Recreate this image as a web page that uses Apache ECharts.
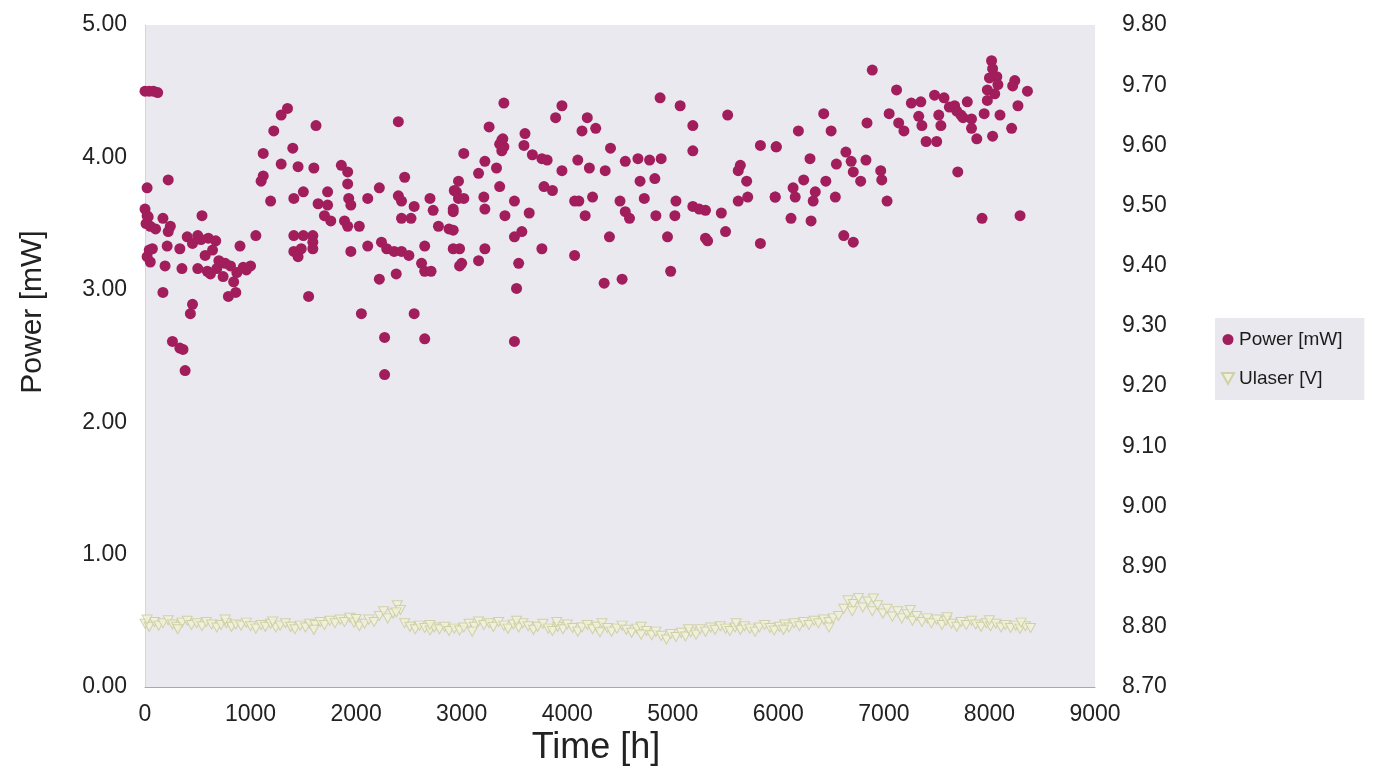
<!DOCTYPE html>
<html>
<head>
<meta charset="utf-8">
<script src="https://cdn.jsdelivr.net/npm/echarts@6/dist/echarts.min.js"></script>
<style>
html,body{margin:0;padding:0;background:#fff;}
#chart{width:1388px;height:772px;}
</style>
</head>
<body>
<div id="chart"></div>
<script>
// Time axis ticks
var timeTicks = [0,1000,2000,3000,4000,5000,6000,7000,8000,9000];
var powerTicks = [0,1,2,3,4,5];
var voltTicks = [8.7,8.8,8.9,9.0,9.1,9.2,9.3,9.4,9.5,9.6,9.7,9.8];
var xTitle = 'Time [h]';
var yTitle = 'Power [mW]';

// Power [mW] : [time h, power mW]
var powerData = [
[0,4.50],[40,4.50],[80,4.50],[120,4.49],
[1350,4.37],[1290,4.32],[1220,4.20],[1620,4.24],[2400,4.27],
[1120,4.03],[1400,4.07],[1290,3.95],[1450,3.93],[1600,3.92],[1860,3.94],[1920,3.89],
[1100,3.82],[1120,3.86],[220,3.83],[20,3.77],[1920,3.80],[2460,3.85],[2220,3.77],
[1500,3.74],[1730,3.74],[1190,3.67],[1410,3.69],[1640,3.65],[1730,3.64],[1700,3.56],[1760,3.52],
[1930,3.69],[1950,3.64],[2110,3.69],[2400,3.71],[2430,3.67],[2700,3.69],[2930,3.75],[2970,3.69],
[0,3.61],[20,3.56],[170,3.54],[540,3.56],[2550,3.63],[2730,3.60],[2920,3.61],[2430,3.54],[2520,3.54],
[50,3.48],[100,3.46],[240,3.48],[220,3.44],[1890,3.52],[1920,3.48],[2030,3.48],[2780,3.48],[2880,3.46],
[1410,3.41],[1500,3.41],[1590,3.41],[400,3.40],[500,3.41],[600,3.39],[670,3.37],
[2240,3.36],[2290,3.31],[2360,3.29],[2430,3.29],[2650,3.33],[2920,3.31],
[70,3.31],[50,3.21],[210,3.33],[330,3.31],[570,3.26],[710,3.21],[810,3.18],[930,3.17],[1000,3.18],
[500,3.16],[590,3.14],[900,3.33],[1050,3.41],[1410,3.29],[1480,3.31],[1450,3.25],[1590,3.36],[1590,3.31],
[190,3.18],[350,3.16],[1950,3.29],[2110,3.33],[2620,3.20],[2650,3.14],[2710,3.14],[2220,3.08],[2380,3.12],
[2500,3.26],[2980,3.18],[840,3.06],[860,2.98],[790,2.95],[170,2.98],[1550,2.95],[450,2.89],[430,2.82],
[2050,2.82],[2550,2.82],[2270,2.64],[2650,2.63],[260,2.61],[330,2.56],[360,2.55],[380,2.39],[2270,2.36],
[620,3.12],[680,3.16],[740,3.10],[870,3.13],[960,3.15],[450,3.35],[530,3.38],[640,3.30],[700,3.22],[760,3.20],
[20,3.25],[40,3.30],[30,3.55],[10,3.50],
[3400,4.41],[3950,4.39],[4880,4.45],[5070,4.39],[5520,4.32],[3890,4.30],[4190,4.30],[4140,4.20],[4270,4.22],
[3260,4.23],[5190,4.24],[3380,4.13],[3380,4.05],[3360,4.10],[3400,4.08],[3390,4.14],[3600,4.18],[3590,4.09],
[3670,4.02],[3760,3.99],[3810,3.98],[3020,4.03],[4410,4.07],[5190,4.05],[5830,4.09],[5980,4.08],
[3220,3.97],[3330,3.92],[3160,3.88],[3950,3.90],[4100,3.98],[4210,3.92],[4360,3.90],[4550,3.97],
[4670,3.99],[4780,3.98],[4890,3.99],[5640,3.94],[5620,3.90],[2970,3.82],[2950,3.74],[3780,3.78],[3860,3.75],
[3360,3.78],[4690,3.82],[4830,3.84],[5700,3.82],[3020,3.69],[3210,3.70],[3220,3.61],[3500,3.67],
[4070,3.67],[4110,3.67],[4240,3.70],[4500,3.67],[4550,3.59],[4590,3.54],[4730,3.69],
[5030,3.67],[5190,3.63],[5310,3.60],[5250,3.61],[5620,3.67],[5710,3.70],[5970,3.70],
[2920,3.59],[3410,3.56],[3640,3.58],[4170,3.56],[4840,3.56],[5020,3.56],[5460,3.58],
[2920,3.45],[3570,3.44],[3500,3.40],[4400,3.40],[4950,3.40],[5310,3.39],[5330,3.37],[5500,3.44],[5830,3.35],
[2980,3.31],[3000,3.20],[3220,3.31],[3160,3.22],[3760,3.31],[3540,3.20],[4070,3.26],[4980,3.14],
[4350,3.05],[4520,3.08],[3520,3.01],[3500,2.61],
[6890,4.66],[8020,4.73],[8030,4.67],[8070,4.61],[8080,4.55],[7980,4.51],[7980,4.43],
[8240,4.58],[8220,4.54],[8360,4.50],[8270,4.39],[7120,4.51],[7260,4.41],[7350,4.42],
[7480,4.47],[7570,4.45],[7670,4.39],[7690,4.35],[7730,4.32],[7790,4.42],[7830,4.29],[7830,4.22],[7880,4.14],
[7950,4.33],[8100,4.32],[8210,4.22],[8030,4.16],[7050,4.33],[7140,4.26],[7190,4.20],[7330,4.31],[7360,4.24],
[7520,4.32],[7540,4.24],[7400,4.12],[7500,4.12],[6430,4.33],[6840,4.26],[6190,4.20],[6500,4.20],
[5980,4.08],[6300,3.99],[6550,3.95],[6640,4.04],[6690,3.97],[6710,3.89],[6780,3.82],[6830,3.98],
[6970,3.90],[6980,3.83],[6240,3.83],[6450,3.82],[6140,3.77],[6160,3.70],[6350,3.74],[6330,3.67],
[6540,3.70],[7030,3.67],[5970,3.70],[7700,3.89],[6120,3.54],[6310,3.52],[7930,3.54],[8290,3.56],
[6620,3.41],[6710,3.36],[7620,4.38],[7750,4.30],[8000,4.60],[8050,4.48]
];

// Ulaser [V] : [time h, voltage V]
var ulaserData = [
[0,8.805],[40,8.800],[90,8.808],[130,8.802],[170,8.806],[220,8.811],[260,8.804],[300,8.800],[350,8.807],[400,8.810],
[440,8.803],[490,8.806],[540,8.801],[580,8.808],[630,8.804],[680,8.799],[720,8.803],[770,8.806],[820,8.800],[860,8.804],
[910,8.802],[960,8.807],[1000,8.801],[1050,8.797],[1100,8.803],[1140,8.800],[1190,8.805],[1240,8.799],[1280,8.802],[1330,8.806],
[1380,8.800],[1420,8.796],[1470,8.802],[1520,8.799],[1560,8.805],[1610,8.803],[1660,8.808],[1700,8.803],[1750,8.810],[1800,8.806],
[1850,8.812],[1890,8.808],[1940,8.815],[1980,8.807],[2030,8.801],[2080,8.805],[2120,8.812],[2170,8.808],[2220,8.818],[2260,8.826],
[2300,8.814],[2350,8.822],[2390,8.836],[2420,8.828],[2460,8.806],[2510,8.800],[2560,8.796],[2600,8.802],[2650,8.798],[2700,8.794],
[2740,8.799],[2790,8.796],[2840,8.800],[2880,8.793],[2930,8.797],[2980,8.794],[3020,8.799],[3070,8.805],[3120,8.800],[3160,8.809],
[3210,8.803],[3260,8.806],[3300,8.800],[3350,8.808],[3400,8.802],[3440,8.797],[3490,8.804],[3540,8.799],[3580,8.806],[3630,8.801],
[3680,8.795],[3720,8.800],[3770,8.805],[3820,8.797],[3860,8.793],[3910,8.800],[3960,8.796],[4000,8.804],[4050,8.798],[4100,8.792],
[4140,8.799],[4190,8.803],[4240,8.796],[4280,8.800],[4330,8.806],[4380,8.798],[4420,8.792],[4470,8.797],[4520,8.802],[4560,8.795],
[4610,8.790],[4660,8.797],[4700,8.800],[4750,8.793],[4800,8.786],[4840,8.792],[4890,8.785],[4940,8.779],[4980,8.788],[5030,8.783],
[5080,8.790],[5120,8.784],[5170,8.791],[5220,8.787],[5260,8.796],[5310,8.792],[5360,8.799],[5400,8.795],[5450,8.801],[5500,8.797],
[5540,8.793],[5590,8.799],[5640,8.795],[5680,8.801],[5730,8.797],[5780,8.792],[5820,8.799],[5870,8.803],[5920,8.798],[5960,8.794],
[6010,8.800],[6060,8.804],[6100,8.799],[6150,8.806],[6200,8.801],[6240,8.808],[6290,8.803],[6340,8.810],[6380,8.806],[6430,8.812],
[6480,8.808],[6520,8.814],[6570,8.818],[6620,8.830],[6660,8.844],[6710,8.838],[6760,8.848],[6800,8.832],[6850,8.842],[6890,8.826],
[6940,8.836],[6990,8.822],[7030,8.830],[7080,8.817],[7130,8.826],[7170,8.814],[7220,8.821],[7270,8.810],[7310,8.818],[7360,8.808],
[7410,8.814],[7450,8.806],[7500,8.812],[7550,8.803],[7590,8.810],[7640,8.805],[7690,8.800],[7730,8.808],[7780,8.803],[7830,8.810],
[7870,8.804],[7920,8.800],[7970,8.806],[8010,8.801],[8060,8.805],[8110,8.799],[8150,8.803],[8200,8.798],[8250,8.802],[8290,8.797],
[8340,8.801],[8390,8.798],
[20,8.812],[310,8.796],[760,8.812],[1210,8.809],[1600,8.795],[2000,8.813],[2380,8.824],[2700,8.803],[3100,8.792],[3520,8.810],
[3900,8.808],[4310,8.791],[4700,8.787],[5150,8.796],[5600,8.806],[6050,8.795],[6480,8.799],[6700,8.826],[6900,8.847],[7250,8.828],
[7600,8.816],[8000,8.811],[8300,8.807]
];

var chart = echarts.init(document.getElementById('chart'), null, {renderer:'canvas'});
var FONT = 'Liberation Sans, Arial, sans-serif';
chart.setOption({
  backgroundColor: '#ffffff',
  animation: false,
  grid: {
    left: 145, right: 293, top: 25, bottom: 85,
    show: true, backgroundColor: '#e9e9ef', borderWidth: 0
  },
  graphic: [
    {type: 'text', left: 15, top: 228,
     rotation: 0,
     style: {text: '', fill: '#222'}},
    {type: 'text', x: 33, y: 312, rotation: Math.PI/2,
     style: {text: yTitle, fontFamily: FONT, fontSize: 30, fill: '#222',
             textAlign: 'center', textVerticalAlign: 'middle'}},
    {type: 'text', x: 596, y: 748,
     style: {text: xTitle, fontFamily: FONT, fontSize: 36, fill: '#222',
             textAlign: 'center', textVerticalAlign: 'middle'}}
  ],
  legend: {
    orient: 'vertical',
    left: 1215, top: 318,
    backgroundColor: '#e8e8ee',
    padding: [12, 22, 12, 6],
    itemGap: 20,
    itemWidth: 12, itemHeight: 11,
    textStyle: {fontFamily: FONT, fontSize: 19, color: '#1c1c1c'},
    data: [
      {name: 'Power [mW]', icon: 'circle'},
      {name: 'Ulaser [V]', icon: 'path://M0,0 L10,0 L5,9 Z'}
    ]
  },
  xAxis: {
    type: 'value',
    min: timeTicks[0], max: timeTicks[timeTicks.length-1], interval: 1000,
    axisLine: {show: true, lineStyle: {color: '#a8a8ae', width: 1}},
    axisTick: {show: false},
    splitLine: {show: false},
    axisLabel: {fontFamily: FONT, fontSize: 23, color: '#222', margin: 16,
      formatter: function(v){ return String(v); }}
  },
  yAxis: [
    {
      type: 'value',
      min: powerTicks[0], max: powerTicks[powerTicks.length-1], interval: 1,
      axisLine: {show: true, lineStyle: {color: '#d4d4da', width: 1}},
      axisTick: {show: false},
      splitLine: {show: false},
      axisLabel: {fontFamily: FONT, fontSize: 23, color: '#222', margin: 18,
        formatter: function(v){ return v.toFixed(2); }}
    },
    {
      type: 'value',
      position: 'right',
      min: voltTicks[0], max: voltTicks[voltTicks.length-1], interval: 0.1,
      axisLine: {show: false},
      axisTick: {show: false},
      splitLine: {show: false},
      axisLabel: {fontFamily: FONT, fontSize: 23, color: '#222', margin: 27,
        formatter: function(v){ return v.toFixed(2); }}
    }
  ],
  series: [
    {
      name: 'Power [mW]', type: 'scatter', yAxisIndex: 0,
      symbol: 'circle', symbolSize: 11,
      itemStyle: {color: '#a21d5b', opacity: 1},
      data: powerData
    },
    {
      name: 'Ulaser [V]', type: 'scatter', yAxisIndex: 1,
      symbol: 'path://M0,0 L10,0 L5,9 Z', symbolSize: [10, 9],
      itemStyle: {color: '#f1f1d9', borderColor: '#c9c99a', borderWidth: 1},
      data: ulaserData
    }
  ]
});
</script>
</body>
</html>
